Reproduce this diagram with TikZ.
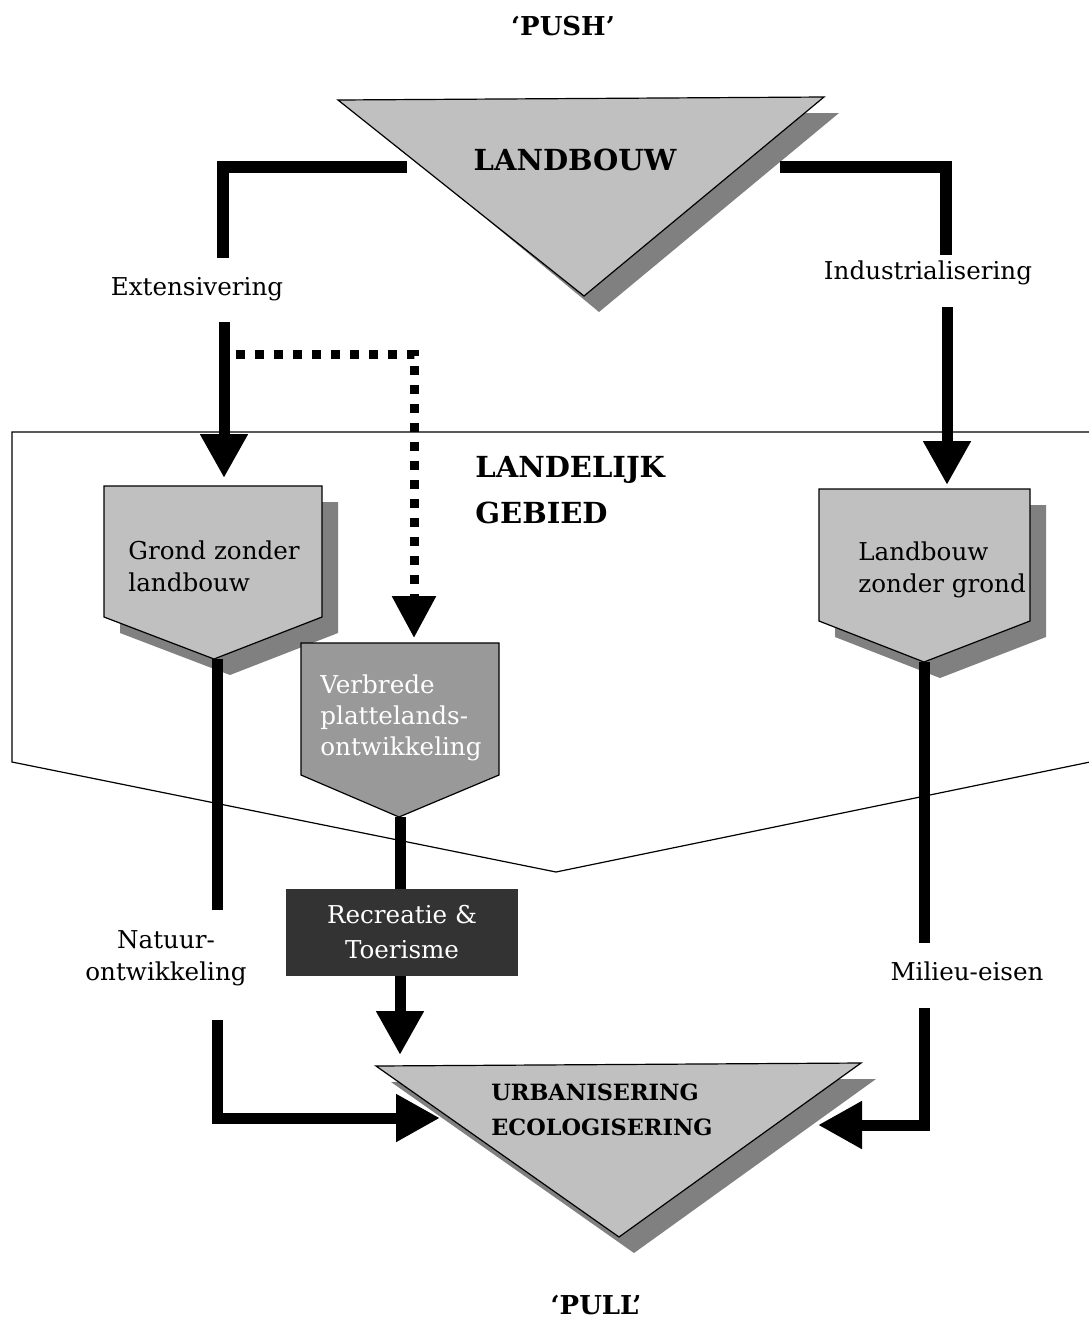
\documentclass[tikz,border=0pt]{standalone}
\usepackage{fontspec}
\setmainfont{DejaVu Serif}
\usetikzlibrary{arrows.meta}

\definecolor{lichtgrijs}{HTML}{C0C0C0}
\definecolor{schaduw}{HTML}{808080}
\definecolor{middengrijs}{HTML}{999999}
\definecolor{donkergrijs}{HTML}{333333}

\begin{document}
\begin{tikzpicture}[x=0.5pt,y=-0.5pt,
    lijn/.style={line width=5.5pt},
    pijl/.style={line width=5.5pt,-{Triangle[width=22.5pt,length=22pt]}},
    stippel/.style={line width=4.5pt,dash pattern=on 4.5pt off 5pt,-{Triangle[width=21pt,length=21pt]}},
    tekst/.style={font=\fontsize{12.3}{16}\selectfont,align=left,inner sep=0pt},
    kop/.style={font=\bfseries\fontsize{14.5}{23}\selectfont,align=left,inner sep=0pt},
    vorm/.style={fill=lichtgrijs,draw=black,line width=0.6pt}]
\useasboundingbox (0,0) rectangle (1088,1329);

% landelijk gebied
\draw[line width=0.6pt] (1090,432) -- (12,432) -- (12,762) -- (556,872) -- (1090,762);

% driehoeken met schaduw
\fill[schaduw] (362,116) -- (839,113) -- (599,312) -- cycle;
\filldraw[vorm] (338,100) -- (824,97) -- (584,296) -- cycle;
\fill[schaduw,shift={(15,16)}] (376,1066) -- (861,1063) -- (619,1237) -- cycle;
\filldraw[vorm] (376,1066) -- (861,1063) -- (619,1237) -- cycle;

% vijfhoeken
\fill[schaduw,shift={(16,16)}] (104,486) -- (322,486) -- (322,617) -- (214,659) -- (104,617) -- cycle;
\filldraw[vorm] (104,486) -- (322,486) -- (322,617) -- (214,659) -- (104,617) -- cycle;
\fill[schaduw,shift={(16,16)}] (819,489) -- (1030,489) -- (1030,621) -- (924,662) -- (819,621) -- cycle;
\filldraw[vorm] (819,489) -- (1030,489) -- (1030,621) -- (924,662) -- (819,621) -- cycle;
\filldraw[vorm,fill=middengrijs] (301,643) -- (499,643) -- (499,775) -- (399,817) -- (301,775) -- cycle;

% teksten
\node[font=\bfseries\fontsize{13}{16}\selectfont] (push) at (563,26) {‘PUSH’};
\node[font=\bfseries\fontsize{13}{16}\selectfont] (pull) at (596,1305) {‘PULL’};
\node[font=\bfseries\fontsize{14.5}{18}\selectfont] (landbouw) at (575,160) {LANDBOUW};
\node[kop,anchor=base west] (gebied) at (475,523) {LANDELIJK\\GEBIED};
\node[tekst,anchor=base] (ext) at (197,295) {Extensivering};
\node[tekst,anchor=base] (ind) at (928,279) {Industrialisering};
\node[tekst,anchor=base west] (grond) at (128,591) {Grond zonder\\landbouw};
\node[tekst,anchor=base west] (lzg) at (858,592) {Landbouw\\zonder grond};
\node[tekst,anchor=base west,text=white,font=\fontsize{12.3}{15.5}\selectfont] (verbrede) at (320,755) {Verbrede\\plattelands-\\ontwikkeling};
\node[fill=donkergrijs,text=white,minimum width=116pt,minimum height=43.5pt,align=center,
      font=\fontsize{12.3}{17.5}\selectfont] (recreatie) at (402,932.5) {Recreatie \&\\Toerisme};
\node[tekst,align=center,anchor=base] (natuur) at (166,980) {Natuur-\\ontwikkeling};
\node[tekst,anchor=base] (milieu) at (967,980) {Milieu-eisen};
\node[font=\bfseries\fontsize{11.2}{17.5}\selectfont,align=left,inner sep=0pt,anchor=base west] (urban) at (491,1135) {URBANISERING\\ECOLOGISERING};

% aanknooppunten
\coordinate (lbL) at (407,167);
\coordinate (lbR) at (780,167);
\coordinate (extBoven) at (223,258);
\coordinate (indBoven) at (946,255);
\coordinate (extOnder) at (224,322);
\coordinate (indOnder) at (947,307);
\coordinate (grondIn) at (224,478);
\coordinate (lzgIn) at (947,485);
\coordinate (stipStart) at (236,354);
\coordinate (verbredeIn) at (414,638);
\coordinate (grondPunt) at (217,659);
\coordinate (lzgPunt) at (924,662);
\coordinate (verbredePunt) at (400,817);
\coordinate (natuurBoven) at (217,910);
\coordinate (milieuBoven) at (924,943);
\coordinate (natuurOnder) at (217,1020);
\coordinate (milieuOnder) at (924,1008);
\coordinate (urbanL) at (440,1118);
\coordinate (urbanR) at (818,1125);
\coordinate (urbanBoven) at (400,1055);

% verbindingen
\draw[lijn,line width=6pt] (lbL) -| (extBoven);
\draw[lijn,line width=6pt] (lbR) -| (indBoven);
\draw[pijl] (extOnder) -- (grondIn);
\draw[pijl] (indOnder) -- (lzgIn);
\draw[stippel] (stipStart) -| (verbredeIn);
\draw[lijn] (grondPunt) -- (natuurBoven);
\draw[lijn] (lzgPunt) -- (milieuBoven);
\draw[lijn] (verbredePunt) -- (recreatie.north -| verbredePunt);
\draw[pijl] (recreatie.south -| verbredePunt) -- (urbanBoven);
\draw[pijl] (natuurOnder) |- (urbanL);
\draw[pijl] (milieuOnder) |- (urbanR);

\end{tikzpicture}
\end{document}
